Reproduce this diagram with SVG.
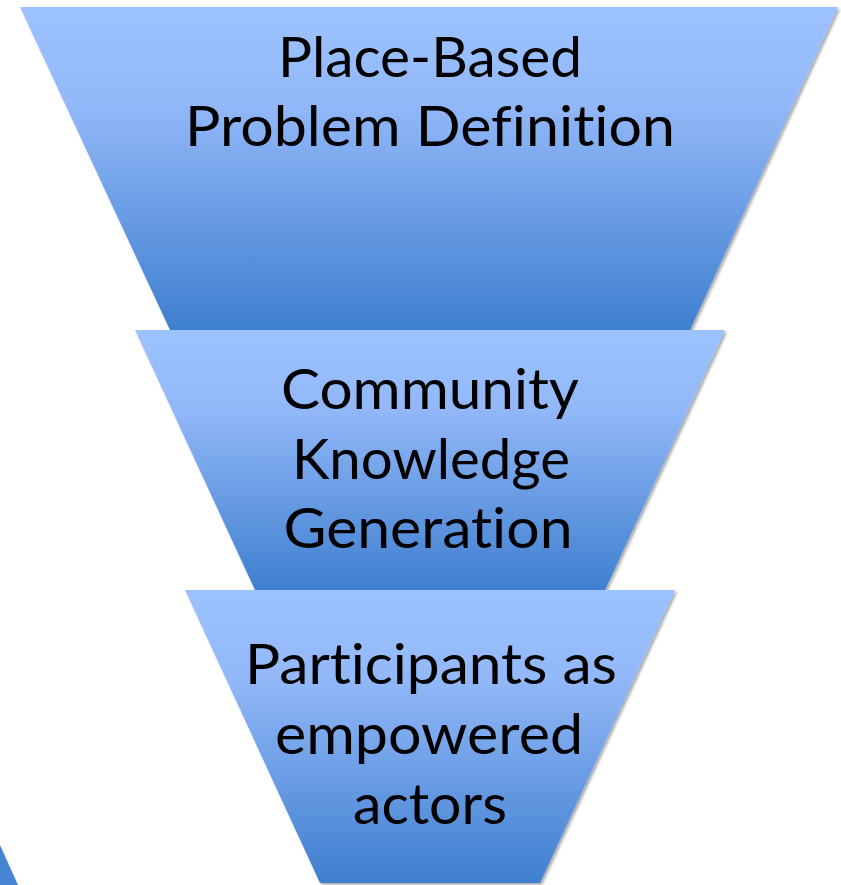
<svg xmlns="http://www.w3.org/2000/svg" width="841" height="885" viewBox="0 0 841 885">
  <defs>
    <linearGradient id="g1" gradientUnits="userSpaceOnUse" x1="0" y1="7" x2="0" y2="330">
      <stop offset="0" stop-color="#9CC2FF"/>
      <stop offset="0.3" stop-color="#92B8F8"/>
      <stop offset="1" stop-color="#3F7FCF"/>
    </linearGradient>
    <linearGradient id="g2" gradientUnits="userSpaceOnUse" x1="0" y1="330" x2="0" y2="590">
      <stop offset="0" stop-color="#9CC2FF"/>
      <stop offset="0.3" stop-color="#92B8F8"/>
      <stop offset="1" stop-color="#3F7FCF"/>
    </linearGradient>
    <linearGradient id="g3" gradientUnits="userSpaceOnUse" x1="0" y1="590" x2="0" y2="883">
      <stop offset="0" stop-color="#9CC2FF"/>
      <stop offset="0.3" stop-color="#92B8F8"/>
      <stop offset="1" stop-color="#3F7FCF"/>
    </linearGradient>
    <filter id="shadow" x="-5%" y="-5%" width="110%" height="110%">
      <feGaussianBlur in="SourceAlpha" stdDeviation="1.5"/>
      <feOffset dx="2" dy="2" result="b"/>
      <feComponentTransfer><feFuncA type="linear" slope="0.35"/></feComponentTransfer>
      <feMerge><feMergeNode/><feMergeNode in="SourceGraphic"/></feMerge>
    </filter>
  </defs>
  <style>
    .lbl { font-family: Lato, "Open Sans", "Liberation Sans", sans-serif; font-size: 56px; fill: #000; text-anchor: middle;
           font-variant-ligatures: none; font-feature-settings: "liga" 0, "clig" 0; }
  </style>
  <rect width="841" height="885" fill="#FFFFFF"/>

  <!-- partial shape at the lower left edge -->
  <polygon points="0,845 18,885 0,885" fill="#4684D4"/>

  <g id="stage1" filter="url(#shadow)">
    <polygon points="20,7 838,7 690,330 170,330" fill="url(#g1)"/>
    <text class="lbl" x="430" y="77" textLength="304" lengthAdjust="spacingAndGlyphs">Place-Based</text>
    <text class="lbl" x="430" y="146" textLength="490" lengthAdjust="spacingAndGlyphs">Problem Definition</text>
  </g>

  <g id="stage2" filter="url(#shadow)">
    <polygon points="135,330 725,330 605,590 255,590" fill="url(#g2)"/>
    <text class="lbl" x="430" y="409" textLength="298" lengthAdjust="spacingAndGlyphs">Community</text>
    <text class="lbl" x="431" y="479" textLength="278" lengthAdjust="spacingAndGlyphs">Knowledge</text>
    <text class="lbl" x="428" y="548" textLength="289" lengthAdjust="spacingAndGlyphs">Generation</text>
  </g>

  <g id="stage3" filter="url(#shadow)">
    <polygon points="185,590 675,590 540,883 320,883" fill="url(#g3)"/>
    <text class="lbl" x="431" y="684" textLength="372" lengthAdjust="spacingAndGlyphs">Participants as</text>
    <text class="lbl" x="429" y="754" textLength="308" lengthAdjust="spacingAndGlyphs">empowered</text>
    <text class="lbl" x="430" y="824" textLength="154" lengthAdjust="spacingAndGlyphs">actors</text>
  </g>

  <g id="connectors"/>
</svg>
